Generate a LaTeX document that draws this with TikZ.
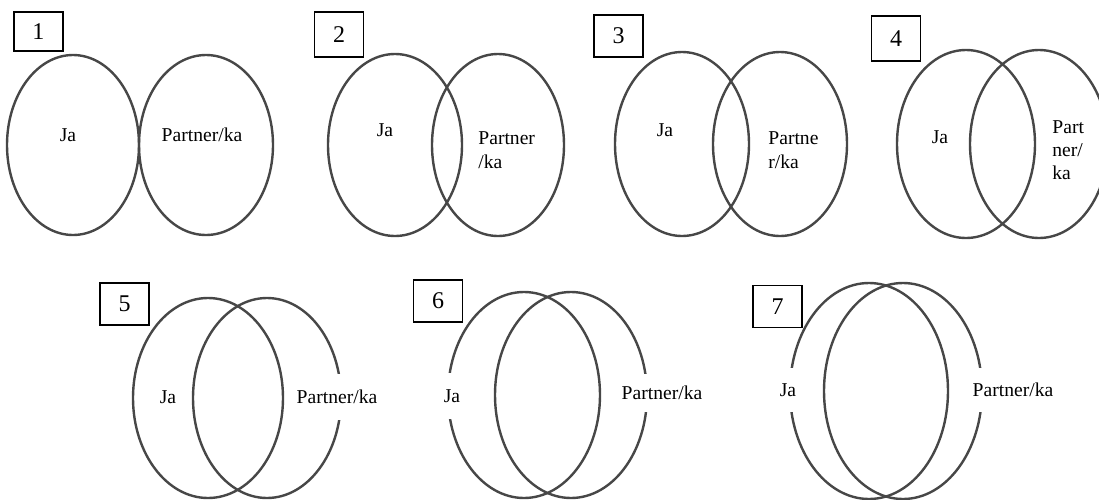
\documentclass[tikz,border=0pt]{standalone}
\usepackage{fontspec}
\setmainfont{Liberation Serif}
\usepackage{tikz}

\begin{document}
\begin{tikzpicture}[x=0.5pt,y=-0.5pt,
  ring/.style={draw=black!72,line width=1.2pt},
  numbox/.style={draw=black,line width=0.7pt,minimum width=24.5pt,minimum height=21pt,inner sep=0pt,font=\fontsize{12}{14}\selectfont},
  lbl/.style={fill=white,inner sep=1pt,font=\fontsize{9.8}{12}\selectfont,align=left},
  cut/.style={lbl,minimum height=23pt}]
\useasboundingbox (0,0) rectangle (1099,499);
% 1
\draw[ring] (73,145) ellipse (66 and 90);
\draw[ring] (206,145) ellipse (67 and 90);
\node[numbox,minimum height=19.5pt] (n1) at (38.5,31.5) {1};
\node[lbl] (ja1) at (68,135) {Ja};
\node[lbl] (pk1) at (202,135) {Partner/ka};
% 2
\draw[ring] (395,145) ellipse (67 and 91);
\draw[ring] (498,145) ellipse (66 and 91);
\node[numbox,minimum height=22.5pt] (n2) at (339,34.5) {2};
\node[lbl] (ja2) at (385,130) {Ja};
\node[lbl,anchor=west] (pk2) at (476,150) {Partner\\/ka};
% 3
\draw[ring] (682,144) ellipse (67 and 92);
\draw[ring] (780,144) ellipse (67 and 92);
\node[numbox] (n3) at (618.5,36) {3};
\node[lbl] (ja3) at (665,130) {Ja};
\node[lbl,anchor=west] (pk3) at (766,150) {Partne\\r/ka};
% 4
\draw[ring] (966,144) ellipse (69 and 94);
\draw[ring] (1039,144) ellipse (69 and 94);
\node[numbox,minimum height=22.5pt] (n4) at (896,38.5) {4};
\node[lbl] (ja4) at (940,137) {Ja};
\node[lbl,anchor=west,font=\fontsize{9.8}{11.5}\selectfont] (pk4) at (1050,150) {Part\\ner/\\ka};
% 5
\draw[ring] (208,398) ellipse (75 and 100);
\draw[ring] (267,398) ellipse (74 and 100);
\node[numbox] (n5) at (124.5,304) {5};
\node[lbl] (ja5) at (168,397) {Ja};
\node[cut] (pk5) at (337,397) {Partner/ka};
% 6
\draw[ring] (524,395) ellipse (76 and 103);
\draw[ring] (571,395) ellipse (76 and 103);
\node[numbox] (n6) at (438,301) {6};
\node[cut] (ja6) at (452,396) {Ja};
\node[cut,minimum height=19pt] (pk6) at (662,393) {Partner/ka};
% 7
\draw[ring] (869,391) ellipse (79 and 108);
\draw[ring] (903,391) ellipse (79 and 108);
\node[numbox] (n7) at (777.5,306.5) {7};
\node[cut,minimum height=22pt] (ja7) at (788,390) {Ja};
\node[cut,minimum height=22pt] (pk7) at (1013,390) {Partner/ka};
\end{tikzpicture}
\end{document}
